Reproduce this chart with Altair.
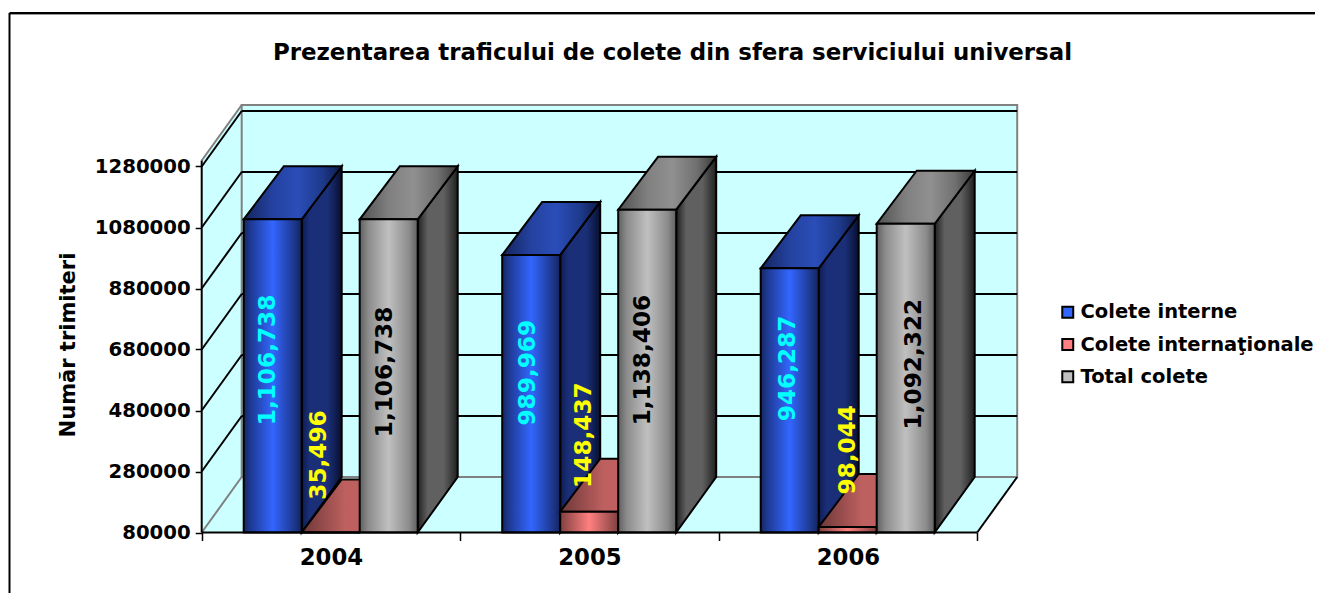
import altair as alt
import pandas as pd

# ---------- values ----------
years = ["2004", "2005", "2006"]
series = ["Colete interne", "Colete internaţionale", "Total colete"]
interne = [1106738, 989969, 946287]
internationale = [35496, 148437, 98044]
total = [1106738, 1138406, 1092322]
y_ticks = [80000, 280000, 480000, 680000, 880000, 1080000, 1280000]
label_colors = ["#00FFFF", "#FFFF00", "#000000"]
legend_colors = ["#3366FF", "#FF8080", "#C0C0C0"]

# ---------- layout (page pixels -> scale units) ----------
W, H = 1307, 585
AX_X, CAT_W, BASE_Y, PX_PER_STEP = 201.7, 258.5, 532.5, 61.0
AXIS_MIN = 80000


def U(px):
    return (px - AX_X) / CAT_W


def V(py):
    return AXIS_MIN + (BASE_Y - py) * 200000 / PX_PER_STEP


dU = 40 / CAT_W
dV_top = 53 * 200000 / PX_PER_STEP
dV_wall = 55.5 * 200000 / PX_PER_STEP
BAR_W = 58 / CAT_W
GROUP_OFF = 42 / CAT_W
FONT = "DejaVu Sans"
sx = alt.Scale(domain=[U(8), U(8 + W)], nice=False, zero=False)
sy = alt.Scale(domain=[V(8 + H), V(8)], nice=False, zero=False)

x_axis = alt.Axis(
    values=[0, 0.5, 1, 1.5, 2, 2.5, 3], grid=False, domain=False, title=None,
    offset=-(H - (BASE_Y - 8)), tickSize=8, tickColor="#000000", tickWidth=1.5,
    tickOpacity={"condition": {"test": "datum.value % 1 == 0", "value": 1}, "value": 0},
    labelExpr="datum.value == 0.5 ? '%s' : datum.value == 1.5 ? '%s' : datum.value == 2.5 ? '%s' : ''" % tuple(years),
    labelFont=FONT, labelFontWeight="bold", labelFontSize=22.8, labelColor="#000000",
    labelPadding=6, labelOverlap=False, labelFlush=False, labelBaseline="top",
)
y_axis = alt.Axis(
    values=y_ticks, format=".0f", grid=False, domain=False, title="Număr trimiteri",
    offset=-(AX_X - 8), tickSize=6.5, tickColor="#000000", tickWidth=1.5,
    labelFont=FONT, labelFontWeight="bold", labelFontSize=19.7, labelColor="#000000",
    labelPadding=5, labelOverlap=False, titleFont=FONT, titleFontWeight="bold",
    titleFontSize=21, titleColor="#000000", titleX=-127.7, titleY=336.5,
    titleBaseline="alphabetic", titleAlign="center", titleAngle=270,
)
X = lambda f="x": alt.X(f"{f}:Q", scale=sx, axis=x_axis)
Y = lambda f="y": alt.Y(f"{f}:Q", scale=sy, axis=y_axis)
X2 = lambda: alt.X2("x2:Q")
Y2 = lambda: alt.Y2("y2:Q")


def grad(*stops):
    return alt.Gradient(
        gradient="linear",
        x1=0, x2=1, y1=0, y2=0,
        stops=[alt.GradientStop(offset=o, color=c) for o, c in stops],
    )


faces = {
    0: dict(
        front=grad((0, "#16265F"), (0.12, "#1E3A94"), (0.5, "#3366FF"), (0.85, "#1E3A94"), (1, "#14245C")),
        top=grad((0, "#14245C"), (0.3, "#2442A0"), (0.55, "#2A4DB8"), (0.8, "#1E3A8C"), (1, "#0E1A48")),
        side=grad((0, "#0E1C50"), (0.2, "#1A2F78"), (0.65, "#1A2F78"), (1, "#081030")),
    ),
    1: dict(
        front=grad((0, "#804040"), (0.5, "#FF8080"), (1, "#804040")),
        top=grad((0, "#6E3838"), (0.45, "#BF6060"), (1, "#BF6060")),
        side=grad((0, "#804040"), (1, "#402020")),
    ),
    2: dict(
        front=grad((0, "#606060"), (0.15, "#8C8C8C"), (0.5, "#C0C0C0"), (0.85, "#8C8C8C"), (1, "#606060")),
        top=grad((0, "#505050"), (0.3, "#808080"), (0.55, "#909090"), (0.8, "#707070"), (1, "#383838")),
        side=grad((0, "#202020"), (0.25, "#606060"), (0.65, "#606060"), (1, "#202020")),
    ),
}

values_by_series = [interne, internationale, total]
WALL_TOP = V(105)
layers = []


def rules(rows, color, width):
    return (
        alt.Chart(pd.DataFrame(rows, columns=["x", "x2", "y", "y2"]))
        .mark_rule(color=color, strokeWidth=width)
        .encode(x=X(), x2=X2(), y=Y(), y2=Y2())
    )


# outer chart frame
layers.append(
    alt.Chart().mark_rule(color="#999999", strokeWidth=1)
    .encode(x=alt.value(2), x2=alt.value(W), y=alt.value(6.5))
)
layers.append(
    alt.Chart().mark_rule(color="#000000", strokeWidth=2)
    .encode(x=alt.value(1.5), x2=alt.value(W), y=alt.value(5))
)
layers.append(
    alt.Chart().mark_rule(color="#000000", strokeWidth=2)
    .encode(x=alt.value(1.5), y=alt.value(5), y2=alt.value(H))
)

# walls and floor
wall_fill = "#CCFFFF"
layers.append(
    alt.Chart(pd.DataFrame({"x": [0.0, dU], "y": [AXIS_MIN, AXIS_MIN + dV_wall],
                            "y2": [WALL_TOP - dV_wall, WALL_TOP]}))
    .mark_area(fill=wall_fill, opacity=1)
    .encode(x=X(), y=Y(), y2=Y2())
)
layers.append(
    alt.Chart(pd.DataFrame({"y": [AXIS_MIN, AXIS_MIN + dV_wall], "x": [0.0, dU], "x2": [3.0, 3.0 + dU]}))
    .mark_area(fill=wall_fill, orient="horizontal", opacity=1)
    .encode(x=X(), x2=X2(), y=Y())
)
layers.append(
    alt.Chart(pd.DataFrame({"x": [dU], "x2": [3.0 + dU], "y": [AXIS_MIN + dV_wall], "y2": [WALL_TOP]}))
    .mark_rect(fill=wall_fill, stroke="#808080", strokeWidth=2)
    .encode(x=X(), x2=X2(), y=Y(), y2=Y2())
)

# grid lines on back and left walls
layers.append(rules([[dU, 3.0 + dU, g + dV_wall, g + dV_wall] for g in y_ticks[1:]], "#000000", 2))
layers.append(rules([[0.0, dU, g, g + dV_wall] for g in y_ticks[1:]], "#000000", 2))
# wall edges
layers.append(rules([[0.0, dU, AXIS_MIN, AXIS_MIN + dV_wall]], "#808080", 2))
layers.append(rules([[0.0, dU, WALL_TOP - dV_wall, WALL_TOP]], "#808080", 2))
layers.append(rules([[3.0, 3.0 + dU, AXIS_MIN, AXIS_MIN + dV_wall]], "#000000", 2))
layers.append(rules([[0.0, 0.0, AXIS_MIN, WALL_TOP - dV_wall]], "#000000", 2))

# bars: series by series so that each hides the side of the one before it
for s, vals in enumerate(values_by_series):
    front, top, side = [], [], []
    for i, val in enumerate(vals):
        v = max(val, AXIS_MIN)
        x0 = i + GROUP_OFF + s * BAR_W
        x1 = x0 + BAR_W
        front.append(dict(x=x0, x2=x1, y=v, y2=AXIS_MIN))
        top += [dict(id=i, y=v, x=x0, x2=x1), dict(id=i, y=v + dV_top, x=x0 + dU, x2=x1 + dU)]
        side += [dict(id=i, x=x1, y=v, y2=AXIS_MIN), dict(id=i, x=x1 + dU, y=v + dV_top, y2=AXIS_MIN + dV_wall)]
    st = dict(stroke="#000000", strokeWidth=2, strokeJoin="miter")
    layers.append(
        alt.Chart(pd.DataFrame(side)).mark_area(fill=faces[s]["side"], opacity=1, **st)
        .encode(x=X(), y=Y(), y2=Y2(), detail="id:N")
    )
    layers.append(
        alt.Chart(pd.DataFrame(top)).mark_area(fill=faces[s]["top"], orient="horizontal", opacity=1, **st)
        .encode(x=X(), x2=X2(), y=Y(), detail="id:N")
    )
    layers.append(
        alt.Chart(pd.DataFrame(front)).mark_rect(fill=faces[s]["front"], **st)
        .encode(x=X(), x2=X2(), y=Y(), y2=Y2())
    )

# front axis line drawn over the bars' feet
layers.append(rules([[0.0, 3.0, AXIS_MIN, AXIS_MIN]], "#000000", 2))

# value labels: centred on the bar, then nudged by the px offset seen in the picture
NUDGE_X = [[-5, -3, -2], [-11.5, -5, 0], [-4, -4, 8]]
NUDGE_Y = [[-16, -21, -32], [-77.5, -87, -80], [-4, -11, -14]]
rows = []
for s, vals in enumerate(values_by_series):
    for i, val in enumerate(vals):
        v = max(val, AXIS_MIN)
        cx = i + GROUP_OFF + (s + 0.5) * BAR_W + NUDGE_X[s][i] / CAT_W
        cy = (v + AXIS_MIN) / 2 - NUDGE_Y[s][i] * 200000 / PX_PER_STEP
        rows.append(dict(x=cx, y=cy, t=f"{val:,}", c=label_colors[s]))
layers.append(
    alt.Chart(pd.DataFrame(rows))
    .mark_text(angle=270, align="center", baseline="middle", font=FONT, fontWeight="bold", fontSize=23.2)
    .encode(x=X(), y=Y(), text="t:N", color=alt.Color("c:N", scale=None))
)

# legend
layers.append(
    alt.Chart(pd.DataFrame({"s": series}))
    .mark_point(filled=True, size=0, shape="square", stroke="#000000", opacity=1)
    .encode(
        x=alt.value(0), y=alt.value(0),
        color=alt.Color("s:N", scale=alt.Scale(domain=series, range=legend_colors), legend=alt.Legend(
            title=None, orient="none", legendX=1050, legendY=294.5, symbolType="square", symbolSize=120,
            symbolStrokeColor="#000000", symbolStrokeWidth=2, symbolOpacity=1,
            labelFont=FONT, labelFontWeight="bold", labelFontSize=19.5, labelColor="#000000",
            labelLimit=300, rowPadding=11.3, labelOffset=3)),
    )
)

chart = (
    alt.layer(*layers)
    .properties(
        width=W, height=H, padding=0, background="#FFFFFF",
        autosize=alt.AutoSizeParams(type="none"),
        title=alt.TitleParams(
            "Prezentarea traficului de colete din sfera serviciului universal",
            font=FONT, fontWeight="bold", fontSize=22.9, color="#000000",
            anchor="middle", offset=-61, dx=11,
        ),
    )
    .configure_view(stroke=None)
)
chart.save("out.html", embed_options={"renderer": "svg", "actions": False})
